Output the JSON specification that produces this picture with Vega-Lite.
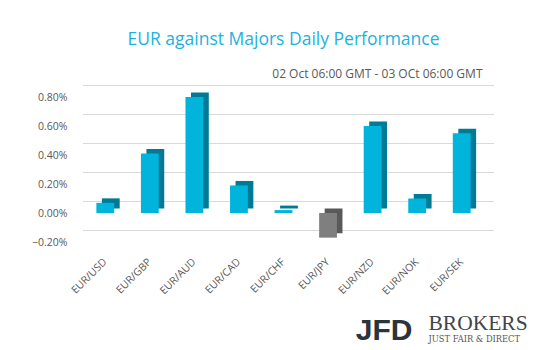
{
  "$schema": "https://vega.github.io/schema/vega-lite/v6.json",
  "width": 401,
  "height": 145,
  "autosize": {"type": "none"},
  "padding": {"left": 83, "top": 97, "right": 54, "bottom": 108},
  "background": "white",
  "title": {
    "text": "EUR against Majors Daily Performance",
    "anchor": "middle",
    "font": "Open Sans",
    "fontSize": 17.5,
    "fontWeight": "normal",
    "color": "#1DB2DE",
    "offset": 19
  },
  "data": {
    "values": [
      {"pair": "EUR/USD", "value": 0.07},
      {"pair": "EUR/GBP", "value": 0.41},
      {"pair": "EUR/AUD", "value": 0.80},
      {"pair": "EUR/CAD", "value": 0.19},
      {"pair": "EUR/CHF", "value": 0.02},
      {"pair": "EUR/JPY", "value": -0.17},
      {"pair": "EUR/NZD", "value": 0.60},
      {"pair": "EUR/NOK", "value": 0.10},
      {"pair": "EUR/SEK", "value": 0.55}
    ]
  },
  "layer": [
    {
      "data": {"values": [{"tick": -0.2}, {"tick": 0}, {"tick": 0.2}, {"tick": 0.4}, {"tick": 0.6}, {"tick": 0.8}]},
      "mark": {"type": "rule", "color": "#D9D9D9", "strokeWidth": 1.2, "xOffset": 10, "x2Offset": 11, "yOffset": -11.5},
      "encoding": {
        "y": {
          "field": "tick", "type": "quantitative",
          "scale": {"domain": [-0.2, 0.8], "nice": false, "zero": true},
          "axis": null
        }
      }
    },
    {
      "mark": {"type": "bar", "xOffset": 5.5, "yOffset": -4.5, "y2Offset": -4.5},
      "encoding": {
        "x": {
          "field": "pair", "type": "nominal", "sort": null,
          "scale": {"paddingInner": 0.6, "paddingOuter": 0.3},
          "axis": {
            "orient": "bottom", "labelAngle": -45, "labelAlign": "right", "labelBaseline": "middle",
            "labelPadding": 18, "labelFont": "Open Sans", "labelFontSize": 10.5, "labelColor": "#595959",
            "domain": false, "ticks": false, "grid": false,
            "title": "JFD", "titleFont": "Liberation Sans", "titleFontSize": 30, "titleFontWeight": "bold",
            "titleColor": "#2B333B", "titleX": 329, "titleY": 97, "titleAlign": "right",
            "titleBaseline": "alphabetic", "titleAngle": 0
          }
        },
        "y": {
          "field": "value", "type": "quantitative",
          "scale": {"domain": [-0.2, 0.8], "nice": false, "zero": true},
          "axis": {
            "orient": "left", "values": [-0.2, 0, 0.2, 0.4, 0.6, 0.8],
            "labelExpr": "format(datum.value, '.2f') + '%'",
            "domain": false, "ticks": false, "labelPadding": 16, "labelFontSize": 10.5,
            "labelColor": "#595959", "labelFont": "Open Sans",
            "grid": false,
            "title": "BROKERS", "titleFont": "Liberation Serif", "titleFontSize": 21.5, "titleFontWeight": "normal",
            "titleColor": "#3F464D", "titleAngle": 0, "titleX": 345, "titleY": 232.5,
            "titleAlign": "left", "titleBaseline": "alphabetic"
          }
        },
        "color": {"condition": {"test": "datum.value < 0", "value": "#595959"}, "value": "#007A95"}
      }
    },
    {
      "mark": {"type": "bar"},
      "encoding": {
        "x": {
          "field": "pair", "type": "nominal", "sort": null,
          "scale": {"paddingInner": 0.6, "paddingOuter": 0.3},
          "axis": {
            "orient": "top", "labels": false, "domain": false, "ticks": false, "grid": false,
            "title": "02 Oct 06:00 GMT - 03 OCt 06:00 GMT", "titleFont": "Open Sans", "titleFontSize": 12,
            "titleFontWeight": "normal", "titleColor": "#595959", "titleX": 399, "titleY": -20,
            "titleAlign": "right", "titleBaseline": "alphabetic", "titleAngle": 0
          }
        },
        "y": {
          "field": "value", "type": "quantitative",
          "scale": {"domain": [-0.2, 0.8], "nice": false, "zero": true},
          "axis": {
            "orient": "right", "labels": false, "domain": false, "ticks": false, "grid": false,
            "title": "JUST FAIR & DIRECT", "titleFont": "DejaVu Serif", "titleFontSize": 8.3,
            "titleFontWeight": "normal", "titleColor": "#555555", "titleAngle": 0,
            "titleX": -56, "titleY": 244, "titleAlign": "left", "titleBaseline": "alphabetic"
          }
        },
        "color": {"condition": {"test": "datum.value < 0", "value": "#7F7F7F"}, "value": "#00B4DC"}
      }
    }
  ],
  "resolve": {"axis": {"x": "independent", "y": "independent"}},
  "config": {"view": {"stroke": null}}
}
